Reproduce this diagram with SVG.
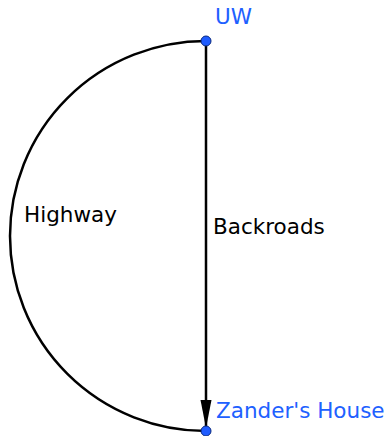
<svg xmlns="http://www.w3.org/2000/svg" width="385" height="436" viewBox="0 0 385 436">
<style>
.edge{fill:none;stroke:#000;stroke-width:2.5}
.dot{fill:#1f5cff;stroke:#0a2a80;stroke-width:1}
.lbl{font-family:"DejaVu Sans",sans-serif;font-size:21.5px;fill:#000}
.nlbl{font-family:"DejaVu Sans",sans-serif;font-size:21.5px;fill:#2060ff}
</style>
<defs>
<marker id="arr" markerWidth="28" markerHeight="12" refX="28" refY="6" orient="auto" markerUnits="userSpaceOnUse" viewBox="0 0 28 12">
<path d="M0,0.5 L28,6 L0,11.5 Z" fill="#000"/>
</marker>
</defs>
<g id="connectors">
<path class="edge" d="M206,41 A196,195 0 0,0 206,431"/>
<line class="edge" x1="206" y1="41" x2="206" y2="428" marker-end="url(#arr)"/>
<text class="lbl" x="24" y="222">Highway</text>
<text class="lbl" x="213" y="234">Backroads</text>
</g>
<g id="uw">
<circle class="dot" cx="206" cy="41" r="5"/>
<text class="nlbl" x="215" y="24">UW</text>
</g>
<g id="zander">
<circle class="dot" cx="206" cy="431" r="5"/>
<text class="nlbl" x="216" y="418">Zander's House</text>
</g>
</svg>
